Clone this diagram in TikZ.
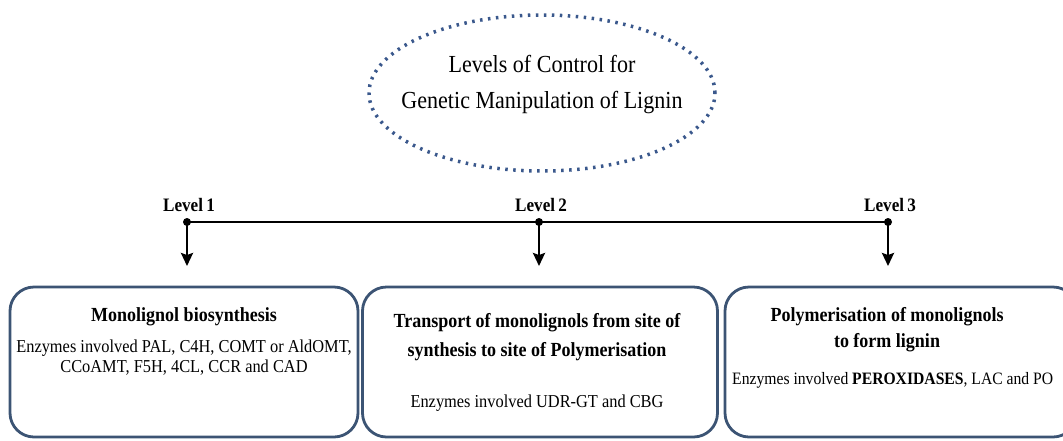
\documentclass[tikz,border=0pt]{standalone}
\usepackage{fontspec}
\setmainfont{Liberation Serif}[FakeStretch=0.9]
\usetikzlibrary{shapes.geometric,arrows.meta}
\definecolor{dotblue}{RGB}{58,88,140}
\definecolor{boxblue}{RGB}{60,84,116}

\begin{document}
\begin{tikzpicture}[x=1pt, y=-1pt,
    title/.style={ellipse, draw=dotblue, line width=3.5pt, dash pattern=on 2.5pt off 5.5pt, minimum width=346pt, minimum height=156pt},
    titletext/.style={align=center, font=\fontsize{24.5}{36}\selectfont},
    stage/.style={draw=boxblue, line width=2.8pt, rounded corners=24pt, minimum height=150pt, inner sep=0pt},
    level/.style={font=\fontsize{19}{21}\selectfont\bfseries},
    link/.style={line width=2.5pt},
    arrow/.style={-{Stealth[length=13pt, width=12pt, inset=2pt]}, line width=2.5pt},
    dot/.style={circle, fill, inner sep=0pt, minimum size=8pt},
    head/.style={align=center, font=\fontsize{20}{29}\selectfont\bfseries},
    body/.style={align=center, font=\fontsize{18.2}{20}\selectfont}
  ]
  \clip (0,0) rectangle (1063,440);

  % title
  \node[title] (ctrl) at (542,93) {};
  \node[titletext] (ctrltext) at (542,85) {Levels of Control for\\Genetic Manipulation of Lignin};

  % levels
  \node[dot] (l1) at (187,222) {};
  \node[dot] (l2) at (539,222) {};
  \node[dot] (l3) at (888,222) {};
  \node[level] at (189,205) {Level\,1};
  \node[level] at (541,205) {Level\,2};
  \node[level] at (890,205) {Level\,3};
  \draw[link] (l1.center) -- (l3.center);

  \coordinate (a1) at (187,266);
  \coordinate (a2) at (539,266);
  \coordinate (a3) at (888,266);
  \draw[arrow] (l1.center) -- (a1);
  \draw[arrow] (l2.center) -- (a2);
  \draw[arrow] (l3.center) -- (a3);

  % boxes
  \node[stage, minimum width=348pt] (box1) at (184,362) {};
  \node[stage, minimum width=355pt] (box2) at (540,362) {};
  \node[stage, minimum width=352pt] (box3) at (901,362) {};

  \node[head] (h1) at (184,317) {Monolignol biosynthesis};
  \node[body] (e1) at (184,358) {Enzymes involved PAL, C4H, COMT or AldOMT,\\CCoAMT, F5H, 4CL, CCR and CAD};

  \node[head] (h2) at (537,337) {Transport of monolignols from site of\\synthesis to site of Polymerisation};
  \node[body] (e2) at (537,403) {Enzymes involved UDR-GT and CBG};

  \node[head, font=\fontsize{20}{26}\selectfont\bfseries] (h3) at (887,330) {Polymerisation of monolignols\\to form lignin};
  \node[body, anchor=west, inner sep=0pt, font=\fontsize{17.4}{20}\selectfont] (e3) at (732,380) {Enzymes involved \textbf{PEROXIDASES}, LAC and PO};
\end{tikzpicture}
\end{document}
